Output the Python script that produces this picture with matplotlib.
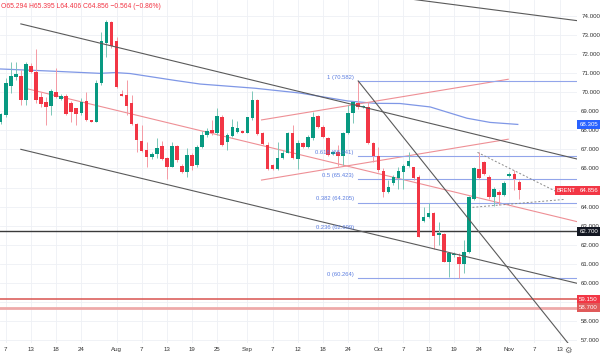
import matplotlib
matplotlib.use('agg')
import matplotlib.pyplot as plt

# DATA ###############################################################

# daily bars, index 0 = first visible bar
opens = [68.45, 68.80, 70.33, 70.77, 70.86, 69.58, 71.38, 71.07, 69.76, 69.50,
         69.29, 69.99, 69.64, 69.81, 69.41, 69.15, 68.92, 69.53, 68.54, 68.45,
         70.46, 72.55, 73.65, 72.67, 69.90, 69.85, 69.41, 68.31, 67.44, 66.96,
         66.61, 66.74, 67.19, 66.53, 66.09, 67.17, 66.13, 65.83, 66.70, 66.18,
         67.14, 67.75, 68.01, 67.84, 68.71, 67.40, 67.71, 67.92, 67.96, 67.87,
         68.66, 69.58, 67.84, 67.23, 66.18, 65.95, 66.53, 66.82, 67.87, 66.48,
         67.32, 67.14, 67.58, 68.75, 68.15, 67.58, 66.76, 66.88, 66.65, 67.84,
         68.89, 69.41, 69.22, 69.23, 67.32, 66.65, 65.88, 64.78, 65.25, 65.48,
         65.83, 66.13, 66.06, 65.57, 63.25, 63.44, 63.68, 62.51, 62.56, 61.11,
         61.46, 61.34, 60.99, 61.64, 64.38, 65.97, 66.35, 65.53, 64.52, 64.75,
         64.59, 65.60, 65.71, 65.294]
highs = [68.90, 70.74, 71.59, 71.59, 71.16, 71.59, 71.50, 72.26, 70.02, 69.76,
         70.16, 71.28, 69.88, 69.88, 69.53, 69.18, 69.70, 70.02, 68.56, 70.63,
         73.16, 73.77, 73.72, 72.90, 70.11, 70.63, 69.85, 68.38, 68.27, 67.40,
         66.85, 67.58, 67.44, 66.61, 67.40, 67.23, 66.22, 67.05, 66.81, 67.23,
         67.96, 68.10, 68.54, 69.15, 68.80, 67.84, 68.57, 68.50, 67.99, 68.71,
         70.07, 69.62, 67.92, 67.40, 66.22, 67.40, 66.96, 67.92, 68.27, 67.49,
         67.40, 67.75, 68.97, 68.80, 68.27, 67.66, 66.91, 67.23, 67.92, 69.32,
         69.55, 70.582, 69.32, 69.50, 67.40, 67.14, 66.01, 65.39, 65.66, 66.09,
         66.23, 66.88, 66.09, 65.66, 63.99, 64.17, 63.73, 63.21, 62.60, 61.64,
         61.60, 61.57, 62.25, 64.56, 66.09, 66.85, 66.40, 65.66, 65.01, 64.87,
         65.34, 65.80, 65.92, 65.395]
lows = [68.35, 68.69, 69.94, 70.63, 69.32, 69.32, 70.98, 69.43, 69.23, 68.27,
        68.80, 69.67, 69.58, 68.80, 68.45, 68.27, 68.80, 68.48, 68.42, 68.42,
        70.37, 71.85, 72.29, 70.23, 69.78, 68.80, 68.27, 66.88, 66.88, 66.09,
        66.49, 66.53, 66.44, 65.43, 66.06, 66.35, 65.74, 65.53, 65.92, 66.09,
        67.05, 67.66, 67.75, 67.75, 67.17, 66.96, 67.66, 67.84, 67.84, 67.84,
        68.54, 67.75, 67.23, 65.92, 65.92, 65.92, 66.48, 66.79, 66.48, 65.95,
        67.05, 67.05, 67.49, 68.10, 67.61, 66.65, 66.72, 66.13, 66.18, 67.80,
        68.36, 69.10, 69.18, 67.28, 66.35, 65.83, 64.52, 64.70, 65.13, 64.91,
        64.91, 66.09, 65.39, 62.40, 63.21, 63.39, 61.76, 61.99, 61.09, 60.30,
        61.35, 60.264, 60.51, 61.57, 64.35, 65.43, 65.66, 64.38, 64.03, 64.08,
        64.56, 65.53, 64.87, 64.406]
closes = [68.84, 70.46, 70.86, 70.95, 69.58, 71.45, 71.07, 69.58, 69.36, 69.23,
          70.06, 69.73, 69.81, 68.84, 68.97, 68.85, 69.50, 68.54, 68.45, 70.46,
          72.67, 73.65, 72.43, 70.28, 69.81, 69.29, 68.31, 67.49, 66.91, 66.61,
          66.77, 67.09, 66.49, 66.06, 67.19, 66.44, 65.83, 66.70, 66.13, 67.14,
          67.75, 67.96, 67.84, 68.76, 67.23, 67.75, 68.15, 68.10, 67.87, 68.68,
          69.58, 67.79, 67.28, 65.95, 65.95, 66.53, 66.82, 67.87, 66.53, 67.32,
          67.11, 67.63, 68.71, 68.15, 67.66, 66.70, 66.88, 66.65, 67.84, 68.89,
          69.46, 69.23, 69.28, 67.32, 66.65, 65.92, 64.78, 65.01, 65.53, 65.88,
          66.13, 66.40, 65.51, 62.42, 63.44, 63.65, 62.46, 62.63, 61.11, 61.55,
          61.50, 60.99, 61.64, 64.49, 66.01, 65.48, 65.71, 64.49, 64.91, 64.61,
          65.25, 65.71, 65.42, 64.856]

date_idx = [1, 6, 11, 16, 23, 28, 33, 38, 43, 49, 54, 59, 64, 69, 75, 80, 85, 90, 95, 101, 106, 111]
date_lbl = ['7', '13', '18', '24', 'Aug', '7', '13', '19', '25', 'Sep', '7', '12', '18', '24',
            'Oct', '7', '13', '19', '24', 'Nov', '7', '13']
price_ticks = list(range(57, 75))
hidden_ticks = [59, 65]

# moving average (bar index, price)
ma_idx = [-0.14, 9.8, 19.7, 22.7, 25.7, 34.6, 39.6, 50.5, 59.4, 69.0, 74.3, 79.3, 85.3, 92.6, 97.2, 102.7]
ma_val = [71.21, 71.10, 70.98, 71.02, 70.97, 70.61, 70.42, 70.20, 69.95, 69.53, 69.41, 69.40, 69.22, 68.63, 68.41, 68.305]

# trend lines (x0, p0, x1, p1)
dark_lines = [(4.0, 73.57, 114.5, 66.49), (4.0, 67.00, 114.5, 59.98),
              (71.0, 70.582, 112.7, 56.84), (80.0, 74.92, 114.5, 73.74)]
red_lines = [(4.83, 70.20, 114.5, 63.21), (51.8, 68.54, 100.8, 70.67), (51.8, 65.39, 100.8, 67.53)]
dashed_lines = [(94.7, 66.84, 110.4, 64.78), (93.7, 63.96, 112.1, 64.38)]

fib_start = 71
fib_ratios = [1, 0.618, 0.5, 0.382, 0.236, 0]
fib_high = 70.582
fib_low = 60.264

support_black = 62.700
support_red = [59.150, 58.700]
ma_last = 68.305

# PLOT ###############################################################

GREEN = '#089981'
RED = '#f23645'
FONT = 'Liberation Sans'

fig = plt.figure(figsize=(6, 3.6), dpi=100)
ax = fig.add_axes([0, 17 / 360, 577 / 600, 343 / 360])
ax.set_xlim(-0.14, 114.46)
ax.set_ylim(56.855, 74.822)

for s in ax.spines.values():
    s.set_visible(False)

ax.set_xticks(date_idx)
ax.set_xticklabels(date_lbl)
ax.set_yticks(price_ticks)
ax.set_yticklabels(['' if p in hidden_ticks else '%.3f' % p for p in price_ticks])
ax.yaxis.tick_right()
ax.tick_params(axis='both', length=0, labelsize=4.4, labelcolor='#333333')
ax.tick_params(axis='x', pad=3.2)
ax.tick_params(axis='y', pad=3.0)
for lab in ax.get_xticklabels() + ax.get_yticklabels():
    lab.set_fontfamily(FONT)
ax.grid(True, color='#eef0f5', linewidth=0.6)
ax.set_axisbelow(True)

# candles
for i in range(len(opens)):
    o, h, l, c = opens[i], highs[i], lows[i], closes[i]
    col = GREEN if c >= o else RED
    wick = '#7cc7b8' if c >= o else '#f59aa4'
    ax.vlines(i, l, h, color=wick, linewidth=0.7, zorder=3)
    ax.bar(i, max(abs(c - o), 0.04), bottom=min(o, c), width=0.7, color=col, zorder=4, linewidth=0)

# moving average
ax.plot(ma_idx, ma_val, color='#7f97e6', linewidth=0.9, zorder=2)

for x0, p0, x1, p1 in dark_lines:
    ax.plot([x0, x1], [p0, p1], color='#5a5a5a', linewidth=0.8, zorder=5)
for x0, p0, x1, p1 in red_lines:
    ax.plot([x0, x1], [p0, p1], color='#ee8f95', linewidth=0.8, zorder=2)
for x0, p0, x1, p1 in dashed_lines:
    ax.plot([x0, x1], [p0, p1], color='#8a8a8a', linewidth=0.7, dashes=(2, 2), zorder=5)

# fibonacci levels
for r in fib_ratios:
    lvl = fib_low + r * (fib_high - fib_low)
    ax.plot([fib_start - 0.1, 114.5], [lvl, lvl], color='#92a5ea', linewidth=0.8, zorder=2)
    ax.text(fib_start - 0.9, lvl + 0.2, '%g (%.3f)' % (r, lvl), ha='right', va='center',
            fontsize=4.2, color='#5c7ee0', family=FONT, zorder=6)

ax.axhline(support_black, color='#3a3a3a', linewidth=1.0, zorder=2)
ax.axhline(support_red[0], color='#d9534f', linewidth=1.1, zorder=2)
ax.axhline(support_red[1], color='#eeaaaa', linewidth=2.0, zorder=2)

# right axis price boxes
ytr = ax.get_yaxis_transform()
boxes = [(ma_last, '#2962ff'), (closes[-1], RED), (support_black, '#131722'),
         (support_red[0], RED), (support_red[1], '#e05a5a')]
for val, fc in boxes:
    ax.text(1.004, val, '%.3f' % val, transform=ytr, ha='left', va='center', fontsize=4.4,
            color='white', family=FONT, clip_on=False, zorder=10,
            bbox=dict(boxstyle='square,pad=0.35', fc=fc, ec='none'))
ax.text(0.997, closes[-1], 'BRENT', transform=ytr, ha='right', va='center', fontsize=4.0,
        color='white', family=FONT, clip_on=False, zorder=10,
        bbox=dict(boxstyle='square,pad=0.35', fc=RED, ec='none'))

o, h, l, c = opens[-1], highs[-1], lows[-1], closes[-1]
chg = c - closes[-2]
fig.text(0.002, 0.982, 'O%.3f H%.3f L%.3f C%.3f \u2212%.3f (\u2212%.2f%%)'
         % (o, h, l, c, abs(chg), abs(chg) / closes[-2] * 100),
         fontsize=4.9, color=RED, family=FONT, va='center')
fig.text(0.947, 0.027, '\u2699', fontsize=6, color='#666666', ha='center', va='center')

fig.savefig('out.png', dpi=100)
